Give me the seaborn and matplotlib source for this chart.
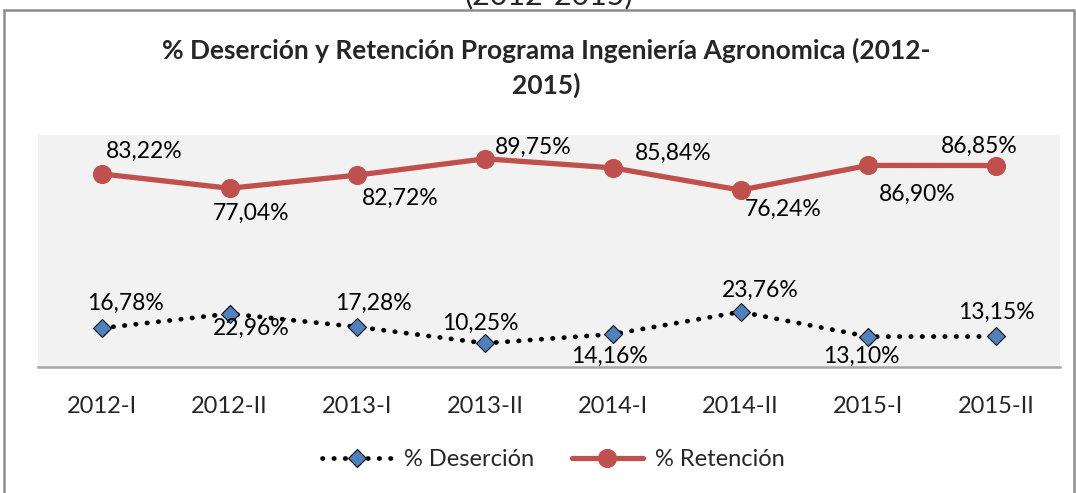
import matplotlib
matplotlib.use("Agg")
import matplotlib.pyplot as plt
from matplotlib.patches import Rectangle
import pandas as pd
import seaborn as sns

# datos
periodos = ['2012-I', '2012-II', '2013-I', '2013-II', '2014-I', '2014-II', '2015-I', '2015-II']
desercion = [16.78, 22.96, 17.28, 10.25, 14.16, 23.76, 13.10, 13.15]
retencion = [83.22, 77.04, 82.72, 89.75, 85.84, 76.24, 86.90, 86.85]

# desplazamiento de las etiquetas (pixeles)
off_ret = [(42, 23), (21, -25), (43, -23), (48, 11), (60, 15), (43, -19), (49, -29), (-17, 19)]
off_des = [(24, 25), (22, -15), (16, 24), (-5, 20), (-3, -22), (20, 22), (-7, -20), (0, 24)]

df = pd.DataFrame({'Periodo': periodos, 'Desercion': desercion, 'Retencion': retencion})

sns.set_style('white')
plt.rcParams['font.family'] = ['Lato', 'DejaVu Sans']

W, H = 1076, 493
fig = plt.figure(figsize=(W / 100, H / 100), dpi=100)
ax = fig.add_axes([38 / W, (H - 367) / H, (1060 - 38) / W, (367 - 135) / H])

ax.set_facecolor('#F2F2F2')

sns.lineplot(data=df, x='Periodo', y='Desercion', ax=ax, color='black',
             linestyle=(0, (0.1, 2.3)), linewidth=3.4, dash_capstyle='round',
             marker='D', markersize=9.5, markerfacecolor='#4F81BD',
             markeredgecolor='black', markeredgewidth=0.8,
             label='% Deserción', sort=False)
sns.lineplot(data=df, x='Periodo', y='Retencion', ax=ax, color='#C0504D',
             linewidth=3.8, marker='o', markersize=13,
             markerfacecolor='#C0504D', markeredgecolor='#C0504D',
             label='% Retención', sort=False)

ax.lines[0].set_markeredgewidth(0.8)

for i, p in enumerate(periodos):
    ax.annotate(f"{retencion[i]:.2f}%".replace('.', ','), (i, retencion[i]),
                xytext=off_ret[i], textcoords='offset pixels',
                ha='center', va='center', fontsize=16.5, color='black')
    ax.annotate(f"{desercion[i]:.2f}%".replace('.', ','), (i, desercion[i]),
                xytext=off_des[i], textcoords='offset pixels',
                ha='center', va='center', fontsize=16.5, color='black')

ax.set_xlim(-0.5, len(periodos) - 0.5)
ax.set_ylim(0, 100)
ax.set_yticks([])
ax.set_xlabel('')
ax.set_ylabel('')
ax.tick_params(axis='x', length=0, pad=21, labelsize=17)
for s in ['top', 'left', 'right']:
    ax.spines[s].set_visible(False)
ax.spines['bottom'].set_color('#A6A6A6')
ax.spines['bottom'].set_linewidth(1.8)

ax.get_legend().remove()
h, l = ax.get_legend_handles_labels()
fig.legend(h, l, loc='center', bbox_to_anchor=(553 / W, (H - 460) / H), ncol=2,
           frameon=False, fontsize=17, handlelength=3.0, columnspacing=1.6,
           handletextpad=0.5)

fig.text(546 / W, (H - 50) / H, '% Deserción y Retención Programa Ingeniería Agronomica (2012-',
         ha='center', va='center', fontsize=19, fontweight='bold')
fig.text(546 / W, (H - 85) / H, '2015)', ha='center', va='center',
         fontsize=19, fontweight='bold')

# texto cortado arriba
fig.text(549 / W, (H - 4) / H, '(2012-2015)', ha='center', va='baseline', fontsize=22)

fig.patches.append(Rectangle((4 / W, -0.05), (1074 - 4) / W, (H - 10) / H + 0.05,
                             transform=fig.transFigure, fill=False,
                             edgecolor='#8C8C8C', linewidth=1.8))

fig.savefig('out.png', dpi=100, facecolor='white')
